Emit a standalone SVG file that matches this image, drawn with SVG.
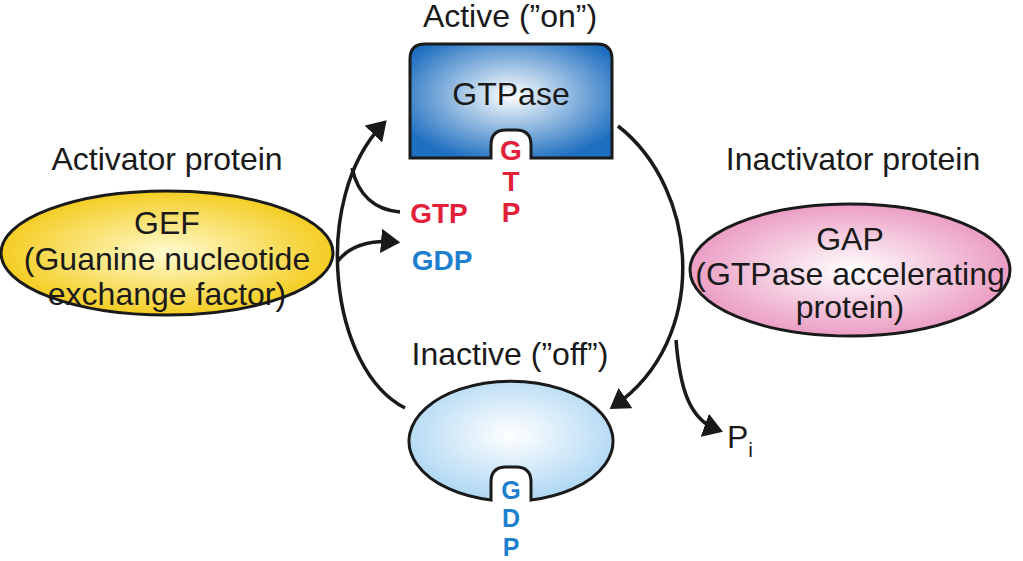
<svg xmlns="http://www.w3.org/2000/svg" width="1023" height="561" viewBox="0 0 1023 561">
<style>
text{font-family:"Liberation Sans",Arial,sans-serif;fill:#1a1a1a}
.t{font-size:32px;text-anchor:middle}
.r{fill:#e3203a;font-weight:bold;font-size:28px;text-anchor:middle}
.b{fill:#1f7fcf;font-weight:bold;font-size:28px;text-anchor:middle}
.v{font-size:25px}
.c{fill:none;stroke:#1a1a1a;stroke-width:3.5}
</style>
<defs>
<radialGradient id="gb" cx="0.5" cy="0.45" r="0.6"><stop offset="0" stop-color="#ffffff"/><stop offset="1" stop-color="#1e6fc0"/></radialGradient>
<radialGradient id="gl" cx="0.5" cy="0.45" r="0.6"><stop offset="0" stop-color="#ffffff"/><stop offset="1" stop-color="#a8d4f2"/></radialGradient>
<radialGradient id="gy" cx="0.5" cy="0.5" r="0.6"><stop offset="0" stop-color="#fffbd0"/><stop offset="1" stop-color="#f2c400"/></radialGradient>
<radialGradient id="gp" cx="0.5" cy="0.5" r="0.6"><stop offset="0" stop-color="#ffffff"/><stop offset="1" stop-color="#e78ab8"/></radialGradient>
<marker id="a" markerWidth="7" markerHeight="7" refX="4" refY="3.5" orient="auto" markerUnits="strokeWidth"><path d="M0,0 L5.5,3.5 L0,7 Z" fill="#1a1a1a"/></marker>
</defs>
<text class="t" x="510" y="27">Active (”on”)</text>
<text class="t" x="167" y="170">Activator protein</text>
<text class="t" x="853" y="170">Inactivator protein</text>
<text class="t" x="510" y="365">Inactive (”off”)</text>
<g id="gtpase">
<path d="M425,44 H597 Q612,44 612,59 V158 H531 V145 Q531,130 516,130 H506 Q491,130 491,145 V158 H410 V59 Q410,44 425,44 Z" fill="url(#gb)" stroke="#1a1a1a" stroke-width="3"/>
<text class="t" x="511" y="105">GTPase</text>
<text class="r" x="511" y="160">G</text><text class="r" x="511" y="191">T</text><text class="r" x="511" y="222">P</text>
</g>
<g id="inactive">
<path d="M491,500 V482 Q491,467 506,467 H516 Q531,467 531,482 V500 A102,60 0 1 0 491,500 Z" fill="url(#gl)" stroke="#1a1a1a" stroke-width="3"/>
<text class="b v" x="511" y="499">G</text><text class="b v" x="511" y="527">D</text><text class="b v" x="511" y="556">P</text>
</g>
<g id="gef">
<ellipse cx="167" cy="253" rx="166" ry="62" fill="url(#gy)" stroke="#1a1a1a" stroke-width="3"/>
<text class="t" x="167" y="234">GEF</text>
<text class="t" x="167" y="270">(Guanine nucleotide</text>
<text class="t" x="167" y="305">exchange factor)</text>
</g>
<g id="gap">
<ellipse cx="850" cy="270" rx="160" ry="66" fill="url(#gp)" stroke="#1a1a1a" stroke-width="3"/>
<text class="t" x="850" y="250">GAP</text>
<text class="t" x="850" y="285">(GTPase accelerating</text>
<text class="t" x="850" y="318">protein)</text>
</g>
<text class="r" x="439" y="223">GTP</text>
<text class="b" x="442" y="270">GDP</text>
<text class="t" x="740" y="448" text-anchor="start">P<tspan font-size="21" dy="9">i</tspan></text>
<g id="connectors">
<path class="c" d="M405,408 C330,370 310,200 383,124" marker-end="url(#a)"/>
<path class="c" d="M400,212 C375,210 358,195 352,168"/>
<path class="c" d="M337,262 C350,245 370,240 395,242" marker-end="url(#a)"/>
<path class="c" d="M618,126 C700,190 710,340 614,406" marker-end="url(#a)"/>
<path class="c" d="M676,340 C680,390 690,420 718,430" marker-end="url(#a)"/>
</g>
</svg>
